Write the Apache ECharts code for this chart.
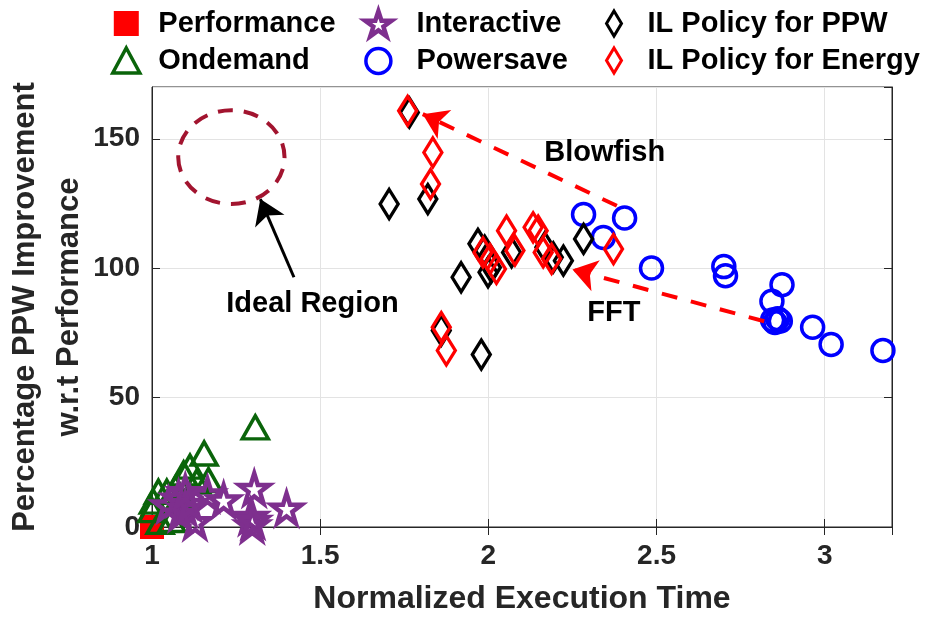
<!DOCTYPE html>
<html>
<head>
<meta charset="utf-8">
<script src="https://cdn.jsdelivr.net/npm/echarts@6/dist/echarts.min.js"></script>
<style>
  html, body { margin: 0; padding: 0; background: #fff; }
  #chart { width: 929px; height: 617px; }
</style>
</head>
<body>
<div id="chart"></div>
<script>
// Governor results: [normalized execution time, % PPW improvement]
const performance = [[1, 0], [1, 0], [1, 0], [1, 0]];
const ondemand = [
  [1.307, 38.5], [1.155, 28.4], [1.113, 23.3], [1.094, 20.7], [1.168, 18.1],
  [1.133, 17.5], [1.019, 13.6], [1.044, 13.6], [1.004, 9.8], [1.0, 6.5],
  [1.084, 11.7], [1.024, 2.0], [1.059, 2.7], [1.07, 15.0]
];
const interactive = [
  [1.304, 14.9], [1.40, 7.2], [1.213, 10.4], [1.165, 12.7], [1.128, 2.0],
  [1.293, 4.0], [1.298, 0.8], [1.049, 8.5], [1.079, 11.1], [1.099, 7.2],
  [1.084, 5.3], [1.113, 9.1], [1.099, 13.6], [1.30, 2.5]
];
const powersave = [
  [2.283, 120.7], [2.405, 119.4], [2.342, 111.9], [2.485, 100.1], [2.70, 100.6],
  [2.705, 97.1], [2.873, 93.6], [2.843, 87.2], [2.845, 80.0], [2.86, 80.5],
  [2.868, 79.6], [2.852, 79.0], [2.964, 77.2], [3.019, 70.5], [3.173, 68.2]
];
const ilPPW = [
  [1.765, 160.1], [1.705, 124.8], [1.82, 126.7], [1.969, 109.4], [1.989, 106.8],
  [1.919, 96.5], [1.999, 98.4], [2.009, 100.3], [2.069, 106.1], [2.168, 108.1],
  [2.193, 104.2], [2.223, 102.9], [2.283, 111.3], [1.86, 75.9], [1.979, 66.6]
];
const ilEnergy = [
  [1.76, 160.8], [1.835, 144.7], [1.828, 132.5], [2.054, 114.5], [2.133, 115.8],
  [2.148, 114.5], [1.984, 106.1], [2.024, 99.7], [2.079, 106.8], [2.163, 106.1],
  [2.188, 103.6], [2.372, 107.4], [1.86, 77.2], [1.875, 68.2], [2.005, 103.5]
];

// Axis ticks
const xTicks = [1, 1.5, 2, 2.5, 3];
const yTicks = [0, 50, 100, 150];

// Annotations (data coordinates)
const idealRegion = [[1.236, 142.9, 0.158, 18.1]]; // centre x, centre y, radius x, radius y
const idealArrow = [[1.422, 96.5], [1.322, 126.7]];
const blowfishArrow = [[2.382, 124.1], [1.805, 159.5]];
const fftArrow = [[2.82, 79.5], [2.25, 99.5]];
const noteLabels = [
  { name: 'Ideal Region', value: [1.477, 86.0] },
  { name: 'Blowfish', value: [2.346, 144.6] },
  { name: 'FFT', value: [2.373, 82.8] }
];

const FONT = "'Liberation Sans', Arial, Helvetica, sans-serif";
const AXIS_COLOR = '#262626';
const STAR = 'path://M50,0 L61.23,34.55 L97.55,34.55 L68.17,55.9 L79.39,90.45 L50,69.1 L20.61,90.45 L31.83,55.9 L2.45,34.55 L38.77,34.55 Z';
const DIAMOND = 'path://M0,-15 L9,0 L0,15 L-9,0 Z';
const SQUARE = 'path://M0,0 L22,0 L22,22 L0,22 Z';
const TRIANGLE = 'path://M13,0 L26,24 L0,24 Z';
const RING = 'path://M-10,0 A10,10 0 1 0 10,0 A10,10 0 1 0 -10,0 Z';
const NONE_FILL = 'rgba(0,0,0,0)';

const GREEN = '#0A640A', PURPLE = '#7E2F8E', BLUE = '#0000FF', RED = '#FF0000', BLACK = '#000000';

function hollow(color, width) {
  return { color: NONE_FILL, borderColor: color, borderWidth: width, opacity: 1 };
}

const legendText = { fontFamily: FONT, fontWeight: 'bold', fontSize: 29, color: '#000' };
function legendBlock(left, boxWidth, items) {
  return {
    orient: 'vertical', left: left, top: 4,
    itemWidth: boxWidth, itemHeight: 25, itemGap: 8,
    selectedMode: false, textStyle: legendText, data: items
  };
}

const chart = echarts.init(document.getElementById('chart'), null, { renderer: 'canvas' });

const tickLabel = { fontFamily: FONT, fontWeight: 'bold', fontSize: 28, color: AXIS_COLOR };
const axisName = { fontFamily: FONT, fontWeight: 'bold', fontSize: 32, color: AXIS_COLOR };

chart.setOption({
  animation: false,
  backgroundColor: '#fff',
  grid: {
    left: 152, right: 37, top: 87, bottom: 90,
    outerBoundsMode: 'none', containLabel: false,
    show: true, borderColor: AXIS_COLOR, borderWidth: 1
  },
  legend: [
    legendBlock(106, 54, [
      { name: 'Performance', icon: SQUARE, itemStyle: { color: RED, borderWidth: 0, opacity: 1 } },
      { name: 'Ondemand', icon: TRIANGLE, itemStyle: hollow(GREEN, 3.5) }
    ]),
    legendBlock(358, 66, [
      { name: 'Interactive', icon: STAR, itemStyle: hollow(PURPLE, 4.5) },
      { name: 'Powersave', icon: RING, itemStyle: hollow(BLUE, 3.5) }
    ]),
    legendBlock(600, 57, [
      { name: 'IL Policy for PPW', icon: DIAMOND, itemStyle: hollow(BLACK, 3) },
      { name: 'IL Policy for Energy', icon: DIAMOND, itemStyle: hollow(RED, 3) }
    ])
  ],
  xAxis: [{
    type: 'value', min: xTicks[0], max: 3.2, interval: 0.5,
    name: 'Normalized Execution Time', nameLocation: 'middle', nameGap: 56, nameTextStyle: axisName,
    axisLine: { lineStyle: { color: AXIS_COLOR } },
    axisTick: { inside: true, length: 8, lineStyle: { color: AXIS_COLOR } },
    axisLabel: { margin: 15, showMaxLabel: false, textStyle: tickLabel, formatter: v => xTicks.includes(v) ? String(v) : '' },
    splitLine: { show: true, lineStyle: { color: '#e3e3e3' } }
  }, {
    type: 'value', position: 'top', min: xTicks[0], max: 3.2, interval: 0.5,
    axisLine: { show: true, lineStyle: { color: AXIS_COLOR } },
    axisTick: { inside: true, length: 8, lineStyle: { color: AXIS_COLOR } },
    axisLabel: { show: false }, splitLine: { show: false }
  }],
  yAxis: [{
    type: 'value', min: yTicks[0], max: 170, interval: 50,
    name: 'Percentage PPW Improvement\nw.r.t Performance', nameLocation: 'middle', nameGap: 61,
    nameMoveOverlap: false,
    nameTextStyle: Object.assign({}, axisName, { fontSize: 31, lineHeight: 44 }),
    axisLine: { show: true, lineStyle: { color: AXIS_COLOR } },
    axisTick: { show: true, inside: true, length: 8, lineStyle: { color: AXIS_COLOR } },
    axisLabel: { margin: 12, showMaxLabel: false, textStyle: tickLabel, formatter: v => yTicks.includes(v) ? String(v) : '' },
    splitLine: { show: true, lineStyle: { color: '#e3e3e3' } }
  }, {
    type: 'value', position: 'right', min: yTicks[0], max: 170, interval: 50,
    axisLine: { show: true, lineStyle: { color: AXIS_COLOR } },
    axisTick: { show: true, inside: true, length: 8, lineStyle: { color: AXIS_COLOR } },
    axisLabel: { show: false }, splitLine: { show: false }
  }],
  series: [
    {
      // dashed ellipse marking the ideal region
      type: 'custom', name: 'ideal', silent: true, z: 3,
      data: idealRegion,
      renderItem: function (params, api) {
        const c = api.coord([api.value(0), api.value(1)]);
        const s = api.size([api.value(2), api.value(3)]);
        const rx = s[0], ry = s[1];
        const d = 'M' + (c[0] - rx) + ',' + c[1] +
          ' A' + rx + ',' + ry + ' 0 1 0 ' + (c[0] + rx) + ',' + c[1] +
          ' A' + rx + ',' + ry + ' 0 1 0 ' + (c[0] - rx) + ',' + c[1] + ' Z';
        return {
          type: 'path',
          shape: { pathData: d, x: c[0] - rx, y: c[1] - ry, width: 2 * rx, height: 2 * ry },
          style: { fill: null, stroke: '#A2142F', lineWidth: 4, lineDash: [15, 11] }
        };
      }
    },
    {
      name: 'Performance', type: 'scatter', clip: false, z: 4,
      symbol: 'rect', symbolSize: 24,
      itemStyle: { color: RED, opacity: 1 },
      data: performance
    },
    {
      name: 'Ondemand', type: 'scatter', clip: false, z: 4,
      symbol: 'triangle', symbolSize: [26, 23],
      itemStyle: hollow(GREEN, 3.5),
      data: ondemand
    },
    {
      name: 'Interactive', type: 'scatter', clip: false, z: 4,
      symbol: STAR, symbolSize: 30,
      itemStyle: hollow(PURPLE, 4.5),
      data: interactive
    },
    {
      name: 'Powersave', type: 'scatter', clip: false, z: 4,
      symbol: 'circle', symbolSize: 22,
      itemStyle: hollow(BLUE, 3.5),
      data: powersave
    },
    {
      name: 'IL Policy for PPW', type: 'scatter', clip: false, z: 4,
      symbol: DIAMOND, symbolSize: [18, 29],
      itemStyle: hollow(BLACK, 3.5),
      data: ilPPW
    },
    {
      name: 'IL Policy for Energy', type: 'scatter', clip: false, z: 4,
      symbol: DIAMOND, symbolSize: [18, 29],
      itemStyle: hollow(RED, 3.5),
      data: ilEnergy
    },
    {
      type: 'lines', coordinateSystem: 'cartesian2d', silent: true, z: 5,
      symbol: ['none', 'arrow'], symbolSize: [18, 24],
      data: [
        { coords: blowfishArrow, lineStyle: { color: RED, width: 4, opacity: 1, type: [16, 14] } },
        { coords: fftArrow, lineStyle: { color: RED, width: 4, opacity: 1, type: [16, 14] } },
        { coords: idealArrow, lineStyle: { color: BLACK, width: 3, opacity: 1, type: 'solid' } }
      ]
    },
    {
      type: 'scatter', silent: true, z: 6,
      symbolSize: 1, itemStyle: { color: NONE_FILL, opacity: 1 },
      label: { show: true, position: 'inside', formatter: '{b}', fontFamily: FONT, fontWeight: 'bold', fontSize: 29, color: '#000' },
      data: noteLabels
    }
  ]
});
</script>
</body>
</html>
